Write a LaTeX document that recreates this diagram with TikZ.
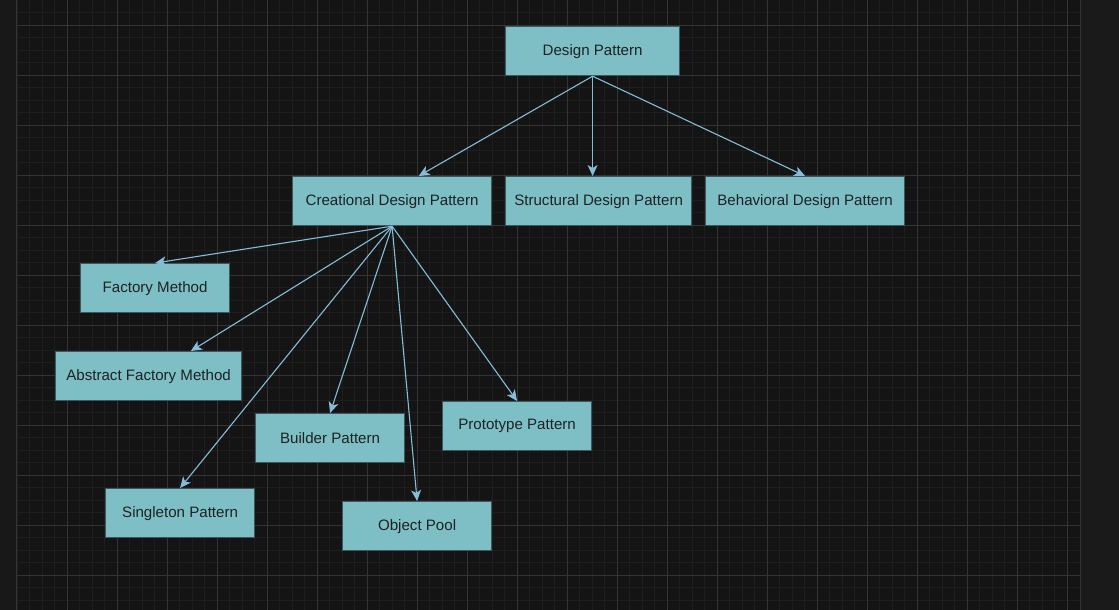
\documentclass[tikz,border=0pt]{standalone}
\usepackage{fontspec}
\setmainfont{Liberation Sans}
\usetikzlibrary{arrows.meta,calc}
\definecolor{bg}{HTML}{141414}
\definecolor{minorc}{HTML}{1E1E1E}
\definecolor{majorc}{HTML}{343434}
\definecolor{sidec}{HTML}{181818}
\definecolor{rightc}{HTML}{1A1A1A}
\definecolor{boxfill}{HTML}{7DBFC4}
\definecolor{boxline}{HTML}{3E5660}
\definecolor{txt}{HTML}{1E2224}
\definecolor{arr}{HTML}{85BCD8}
\tikzset{
  pbox/.style={draw=boxline, line width=1.2pt, fill=boxfill, text=txt, inner sep=0pt, anchor=north west,
    font=\fontsize{15.1}{17}\selectfont},
  conn/.style={draw=arr, line width=1.1pt, -{Stealth[length=11pt,width=10pt,inset=3pt]}}
}
\begin{document}
\begin{tikzpicture}[x=1pt,y=-1pt]
\useasboundingbox (0,0) rectangle (1119,610);
\fill[bg] (0,0) rectangle (1119,610);
\fill[sidec] (0,0) rectangle (17,610);
\fill[rightc] (1080,0) rectangle (1119,610);
% minor grid
\foreach \i in {0,...,84} {\draw[minorc, line width=0.8pt] (17+12.5*\i,0) -- (17+12.5*\i,610);}
\foreach \j in {1,...,48} {\draw[minorc, line width=0.8pt] (17,12.5*\j) -- (1080,12.5*\j);}
% major grid
\foreach \i in {0,...,20} {\draw[majorc, line width=0.9pt] (67+50*\i,0) -- (67+50*\i,610);}
\foreach \j in {0,...,11} {\draw[majorc, line width=0.9pt] (17,25+50*\j) -- (1080,25+50*\j);}
\draw[majorc, line width=1pt] (16.5,0) -- (16.5,610);
\draw[majorc, line width=1pt] (1080,0) -- (1080,610);
% nodes
\node[pbox, minimum width=174pt, minimum height=49pt] (dp) at (505,26) {Design Pattern};
\node[pbox, minimum width=199pt, minimum height=49pt] (cr) at (292,176) {Creational Design Pattern};
\node[pbox, minimum width=186pt, minimum height=49pt] (st) at (505,176) {Structural Design Pattern};
\node[pbox, minimum width=199pt, minimum height=49pt] (be) at (705,176) {Behavioral Design Pattern};
\node[pbox, minimum width=149pt, minimum height=49pt] (fm) at (80,263) {Factory Method};
\node[pbox, minimum width=186pt, minimum height=49pt] (af) at (55,351) {Abstract Factory Method};
\node[pbox, minimum width=149pt, minimum height=49pt] (bp) at (255,413) {Builder Pattern};
\node[pbox, minimum width=149pt, minimum height=49pt] (pp) at (442,401) {Prototype Pattern};
\node[pbox, minimum width=149pt, minimum height=49pt] (sp) at (105,488) {Singleton Pattern};
\node[pbox, minimum width=149pt, minimum height=49pt] (op) at (342,501) {Object Pool};
% connectors
\draw[conn] (dp.south) -- ($(cr.north west)!0.633!(cr.north east)$);
\draw[conn] (dp.south) -- (dp.south |- st.north);
\draw[conn] (dp.south) -- ($(be.north west)!0.5!(be.north east)$);
\draw[conn] (cr.south) -- (fm.north);
\draw[conn] (cr.south) -- ($(af.north west)!0.726!(af.north east)$);
\draw[conn] (cr.south) -- (sp.north);
\draw[conn] (cr.south) -- (bp.north);
\draw[conn] (cr.south) -- (op.north);
\draw[conn] (cr.south) -- (pp.north);
\end{tikzpicture}
\end{document}
